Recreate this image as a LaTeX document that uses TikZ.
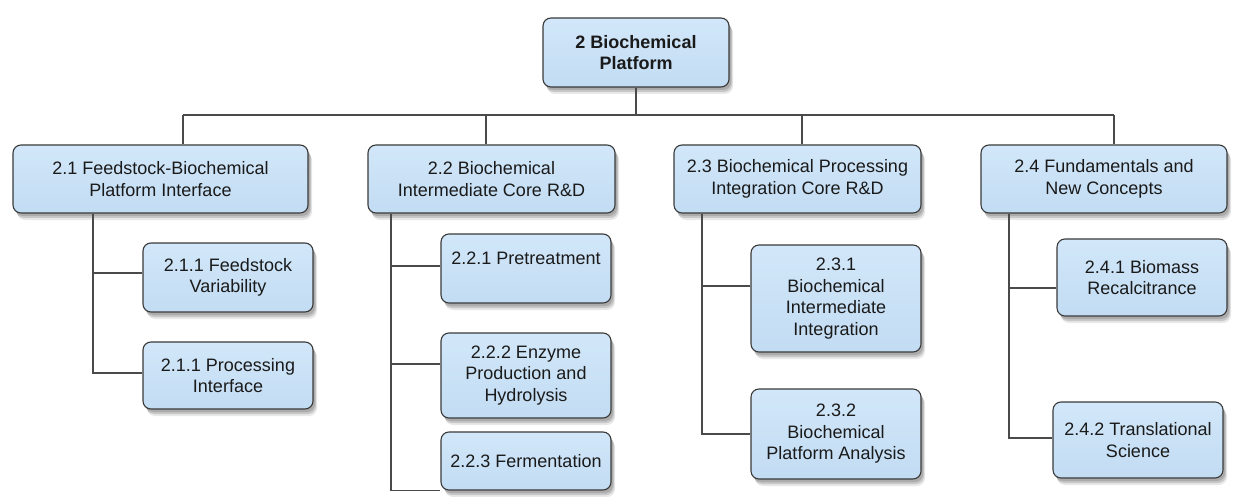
\documentclass[tikz,border=0pt]{standalone}
\usepackage{fontspec}
\setmainfont{Liberation Sans}
\usetikzlibrary{shadows,calc}
\definecolor{boxborder}{HTML}{3A3A3A}
\definecolor{fillTop}{HTML}{D2E7F9}
\definecolor{fillBot}{HTML}{C2DCF3}
\definecolor{textcol}{HTML}{1A1A1A}
\definecolor{linecol}{HTML}{4A4A4A}
\tikzset{
  wbsbox/.style={draw=boxborder, line width=1.1pt, rounded corners=8pt,
    top color=fillTop, bottom color=fillBot, align=center, inner sep=0pt,
    font=\fontsize{18}{21.5}\selectfont, text=textcol,
    drop shadow={shadow xshift=2pt, shadow yshift=-3pt, fill=black, opacity=0.14},
    drop shadow={shadow xshift=3pt, shadow yshift=-5pt, fill=black, opacity=0.14},
    drop shadow={shadow xshift=4pt, shadow yshift=-7pt, fill=black, opacity=0.09}},
  topbox/.style={wbsbox, font=\fontsize{18}{21}\selectfont\bfseries},
  conn/.style={draw=linecol, line width=1.2pt}
}
\begin{document}
\begin{tikzpicture}[x=1pt,y=-1pt]
\fill[white] (0,0) rectangle (1239,497);
\useasboundingbox (0,0) rectangle (1239,497);

% top
\node[topbox, minimum width=186pt, minimum height=69pt] (top) at (636,52.5) {2 Biochemical\\Platform};

% level 1
\node[wbsbox, minimum width=295pt, minimum height=68pt] (n21) at (160.5,179) {2.1 Feedstock-Biochemical\\Platform Interface};
\node[wbsbox, minimum width=247pt, minimum height=68pt] (n22) at (491.5,179) {2.2 Biochemical\\Intermediate Core R\&D};
\node[wbsbox, minimum width=247pt, minimum height=68pt] (n23) at (797.5,179) {2.3 Biochemical Processing\\Integration Core R\&D};
\node[wbsbox, minimum width=246pt, minimum height=68pt] (n24) at (1104,179) {2.4 Fundamentals and\\New Concepts};

% level 2
\node[wbsbox, minimum width=170pt, minimum height=69pt] (c211) at (228,277.5) {2.1.1 Feedstock\\Variability};
\node[wbsbox, minimum width=170pt, minimum height=67pt] (c212) at (228,375.5) {2.1.1 Processing\\Interface};

\node[wbsbox, minimum width=170pt, minimum height=69pt] (c221) at (526,268.5) {2.2.1 Pretreatment\\\phantom{X}};
\node[wbsbox, minimum width=170pt, minimum height=85pt] (c222) at (526,375.5) {2.2.2 Enzyme\\Production and\\Hydrolysis};
\node[wbsbox, minimum width=170pt, minimum height=58pt] (c223) at (526,461) {2.2.3 Fermentation};

\node[wbsbox, minimum width=170pt, minimum height=107pt] (c231) at (836,298.5) {2.3.1\\Biochemical\\Intermediate\\Integration};
\node[wbsbox, minimum width=170pt, minimum height=90pt] (c232) at (836,434) {2.3.2\\Biochemical\\Platform Analysis};

\node[wbsbox, minimum width=170pt, minimum height=77pt] (c241) at (1142,277.5) {2.4.1 Biomass\\Recalcitrance};
\node[wbsbox, minimum width=170pt, minimum height=76pt] (c242) at (1138,440) {2.4.2 Translational\\Science};

% connector coordinates
\coordinate (bar) at (637,115);
\coordinate (d21) at (183,115);
\coordinate (d22) at (486,115);
\coordinate (d23) at (802,115);
\coordinate (d24) at (1114,115);
\coordinate (s21) at (93,0);
\coordinate (s22) at (391,0);
\coordinate (s23) at (702,0);
\coordinate (s24) at (1009,0);

% top tree
\draw[conn] (top.south) -- (top.south |- bar);
\draw[conn] (d21) -- (d24);
\draw[conn] (d21) -- (d21 |- n21.north);
\draw[conn] (d22) -- (d22 |- n22.north);
\draw[conn] (d23) -- (d23 |- n23.north);
\draw[conn] (d24) -- (d24 |- n24.north);

% 2.1 branch
\coordinate (b211) at ($(c211.west)+(0,-4.5)$);
\coordinate (b212) at ($(c212.west)+(0,-2.5)$);
\draw[conn] (s21 |- n21.south) -- (s21 |- b212) -- (b212);
\draw[conn] (s21 |- b211) -- (b211);

% 2.2 branch
\coordinate (b221) at ($(c221.west)+(0,-2.5)$);
\coordinate (b222) at ($(c222.west)+(0,-11.5)$);
\coordinate (b223) at (c223.south west);
\draw[conn] (s22 |- n22.south) -- (s22 |- b223) -- (b223);
\draw[conn] (s22 |- b221) -- (b221);
\draw[conn] (s22 |- b222) -- (b222);

% 2.3 branch
\coordinate (b231) at ($(c231.west)+(0,-12.5)$);
\coordinate (b232) at (c232.west);
\draw[conn] (s23 |- n23.south) -- (s23 |- b232) -- (b232);
\draw[conn] (s23 |- b231) -- (b231);

% 2.4 branch
\coordinate (b241) at ($(c241.west)+(0,10.5)$);
\coordinate (b242) at ($(c242.west)+(0,-2)$);
\draw[conn] (s24 |- n24.south) -- (s24 |- b242) -- (b242);
\draw[conn] (s24 |- b241) -- (b241);
\end{tikzpicture}
\end{document}
